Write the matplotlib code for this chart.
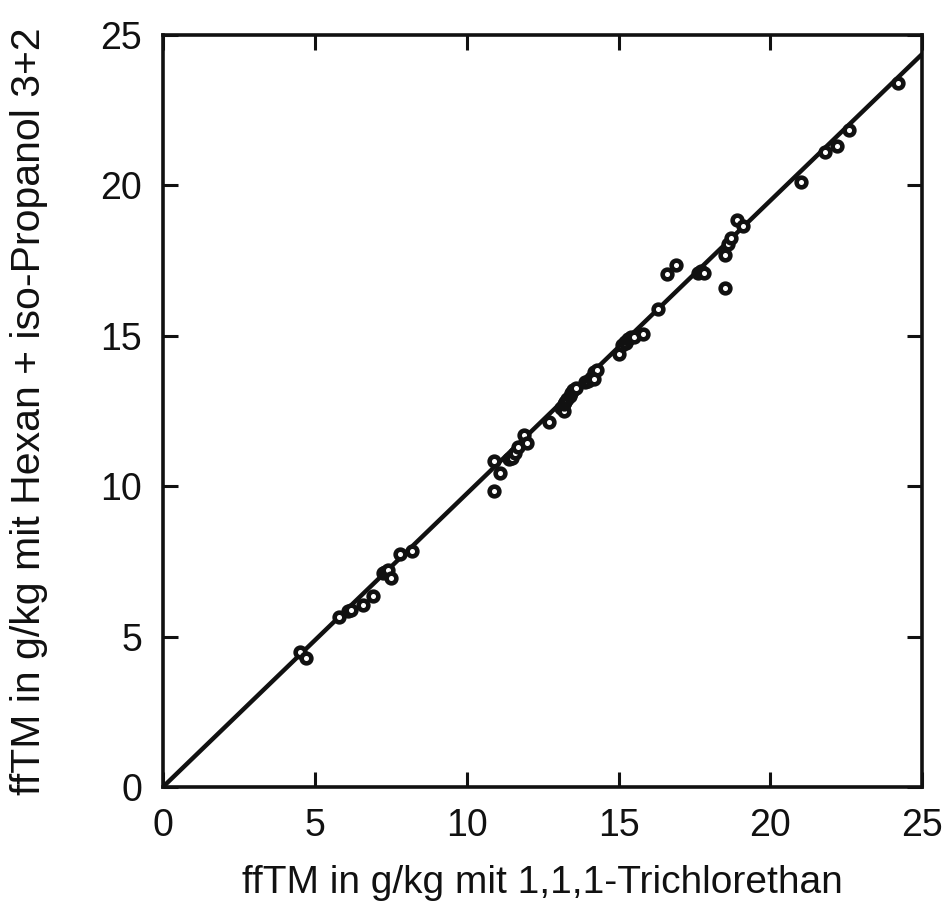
import matplotlib
matplotlib.use('Agg')
import matplotlib.pyplot as plt
import numpy as np

# Messwerte: ffTM (g/kg) mit 1,1,1-Trichlorethan vs. Hexan + iso-Propanol 3+2
x_trichlor = [4.5, 4.7, 5.8, 6.1, 6.2, 6.6, 6.9, 7.25, 7.3, 7.4, 7.5, 7.8, 8.2,
              10.9, 11.1, 10.9, 11.4, 11.5, 11.6, 11.7, 11.9, 12.0, 12.7,
              13.1, 13.2, 13.2, 13.25, 13.3, 13.4, 13.45, 13.5, 13.6, 13.9, 14.0,
              14.1, 14.2, 14.3, 14.2,
              15.0, 15.1, 15.2, 15.25, 15.3, 15.4, 15.5, 15.8,
              16.3, 16.6, 16.9, 17.6, 17.7, 17.8, 18.5, 18.5, 18.6, 18.7, 18.9, 19.1,
              21.0, 21.8, 22.2, 22.6, 24.2]
y_hexan = [4.5, 4.3, 5.65, 5.85, 5.9, 6.05, 6.35, 7.1, 7.15, 7.2, 6.95, 7.75, 7.85,
           10.85, 10.45, 9.85, 10.9, 10.95, 11.1, 11.3, 11.7, 11.45, 12.15,
           12.6, 12.5, 12.75, 12.8, 12.9, 13.0, 13.1, 13.2, 13.25, 13.45, 13.5,
           13.6, 13.8, 13.85, 13.55,
           14.4, 14.7, 14.8, 14.75, 14.9, 14.95, 14.95, 15.05,
           15.9, 17.05, 17.35, 17.1, 17.15, 17.1, 16.6, 17.7, 18.05, 18.25, 18.85, 18.65,
           20.1, 21.1, 21.3, 21.85, 23.4]

# Ausgleichsgerade
steigung = 0.975

plt.rcParams['font.family'] = ['Liberation Sans', 'DejaVu Sans']
plt.rcParams['font.size'] = 27

fig = plt.figure(figsize=(9.47, 9.22), dpi=100)
ax = fig.add_axes([0.172, 0.1464, 0.802, 0.8156])

xl = np.array([0, 25])
ax.plot(xl, steigung * xl, color='#111111', linewidth=3.2, solid_capstyle='butt', zorder=2)
ax.plot(x_trichlor, y_hexan, linestyle='none', marker='o', markersize=7,
        markerfacecolor='white', markeredgecolor='#111111', markeredgewidth=3.3, zorder=3)

ax.set_xlim(0, 25)
ax.set_ylim(0, 25)
ax.set_xticks([0, 5, 10, 15, 20, 25])
ax.set_yticks([0, 5, 10, 15, 20, 25])
ax.tick_params(direction='in', length=10.5, width=2.2, top=True, right=True,
               labelsize=27, pad=15, color='#111111', labelcolor='#111111')
for s in ax.spines.values():
    s.set_linewidth(2.6)
    s.set_color('#111111')

ax.set_xlabel('ffTM in g/kg mit 1,1,1-Trichlorethan', fontsize=28, labelpad=15, color='#111111')
ax.set_ylabel('ffTM in g/kg mit Hexan + iso-Propanol 3+2', fontsize=29.5, labelpad=38, color='#111111')

plt.savefig('out.png', dpi=100, facecolor='white')
plt.close()
